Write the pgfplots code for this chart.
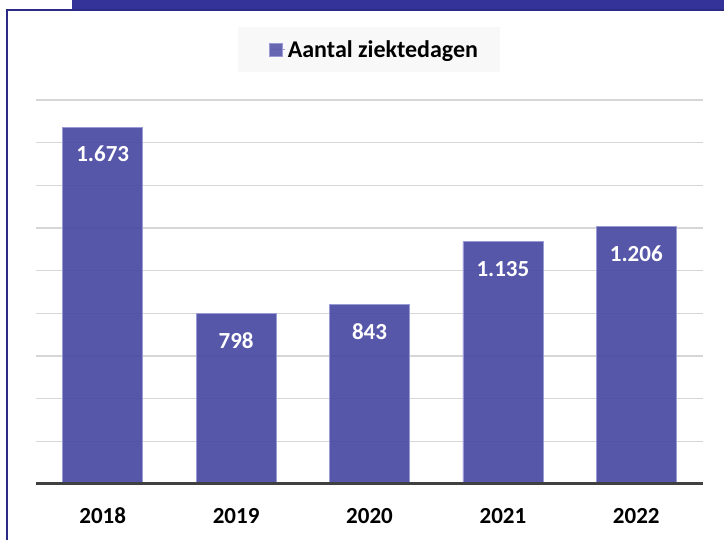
\documentclass[border=0pt]{standalone}
\usepackage{fontspec}
\setmainfont{Carlito}
\usepackage{pgfplots}
\pgfplotsset{compat=1.18}
\definecolor{barc}{HTML}{4A4AA3}
\definecolor{baredge}{HTML}{9A9AD6}
\definecolor{hdr}{HTML}{333399}
\definecolor{frm}{HTML}{2B2B85}
\definecolor{gridc}{HTML}{D6D6D6}
\definecolor{axc}{HTML}{404040}
\definecolor{legbg}{HTML}{F8F8F8}
\begin{document}
\begin{tikzpicture}[x=1bp,y=1bp]
\path[use as bounding box] (0,0) rectangle (724,540);
\fill[hdr] (72,531) rectangle (724,540);
\draw[frm, line width=2bp] (7,-2) -- (7,530) -- (726,530);
\fill[legbg] (238,468) rectangle (500,513);
\begin{axis}[
  at={(36bp,56bp)}, anchor=south west,
  scale only axis, width=667bp, height=384bp,
  xmin=-0.5, xmax=4.5, ymin=0, ymax=1800,
  ybar, bar width=80bp,
  xtick={0,1,2,3,4},
  xticklabels={2018,2019,2020,2021,2022},
  ytick={200,400,600,800,1000,1200,1400,1600,1800},
  yticklabels={},
  ymajorgrids, major grid style={gridc, line width=1.3bp},
  major tick length=0pt,
  axis line style={draw=none},
  /pgf/number format/assume math mode=true,
  /pgf/number format/1000 sep={.},
  tick label style={font=\fontsize{23bp}{27bp}\selectfont\bfseries, text=black},
  xticklabel style={anchor=center, yshift=-32bp},
  nodes near coords,
  nodes near coords style={font=\fontsize{23bp}{27bp}\selectfont\bfseries, text=white, anchor=center, yshift=-27bp},
  legend style={at={(rel axis cs:0.5075,1.1315)}, anchor=center, draw=none, fill=none,
    font=\fontsize{24bp}{28bp}\selectfont\bfseries, inner sep=0pt},
  legend image code/.code={\path (0bp,0bp) -- (16bp,0bp);\fill[barc!90, draw=baredge, line width=0.6bp] (0bp,-6.5bp) rectangle (13bp,6.5bp);},
  after end axis/.code={\draw[axc, line width=3bp] (rel axis cs:0,0) -- (rel axis cs:1,0);},
]
\addplot[fill=barc, fill opacity=0.93, draw=baredge, line width=0.8bp, text opacity=1]
  coordinates {(0,1673) (1,798) (2,843) (3,1135) (4,1206)};
\addlegendentry{Aantal ziektedagen}
\end{axis}
\end{tikzpicture}
\end{document}
